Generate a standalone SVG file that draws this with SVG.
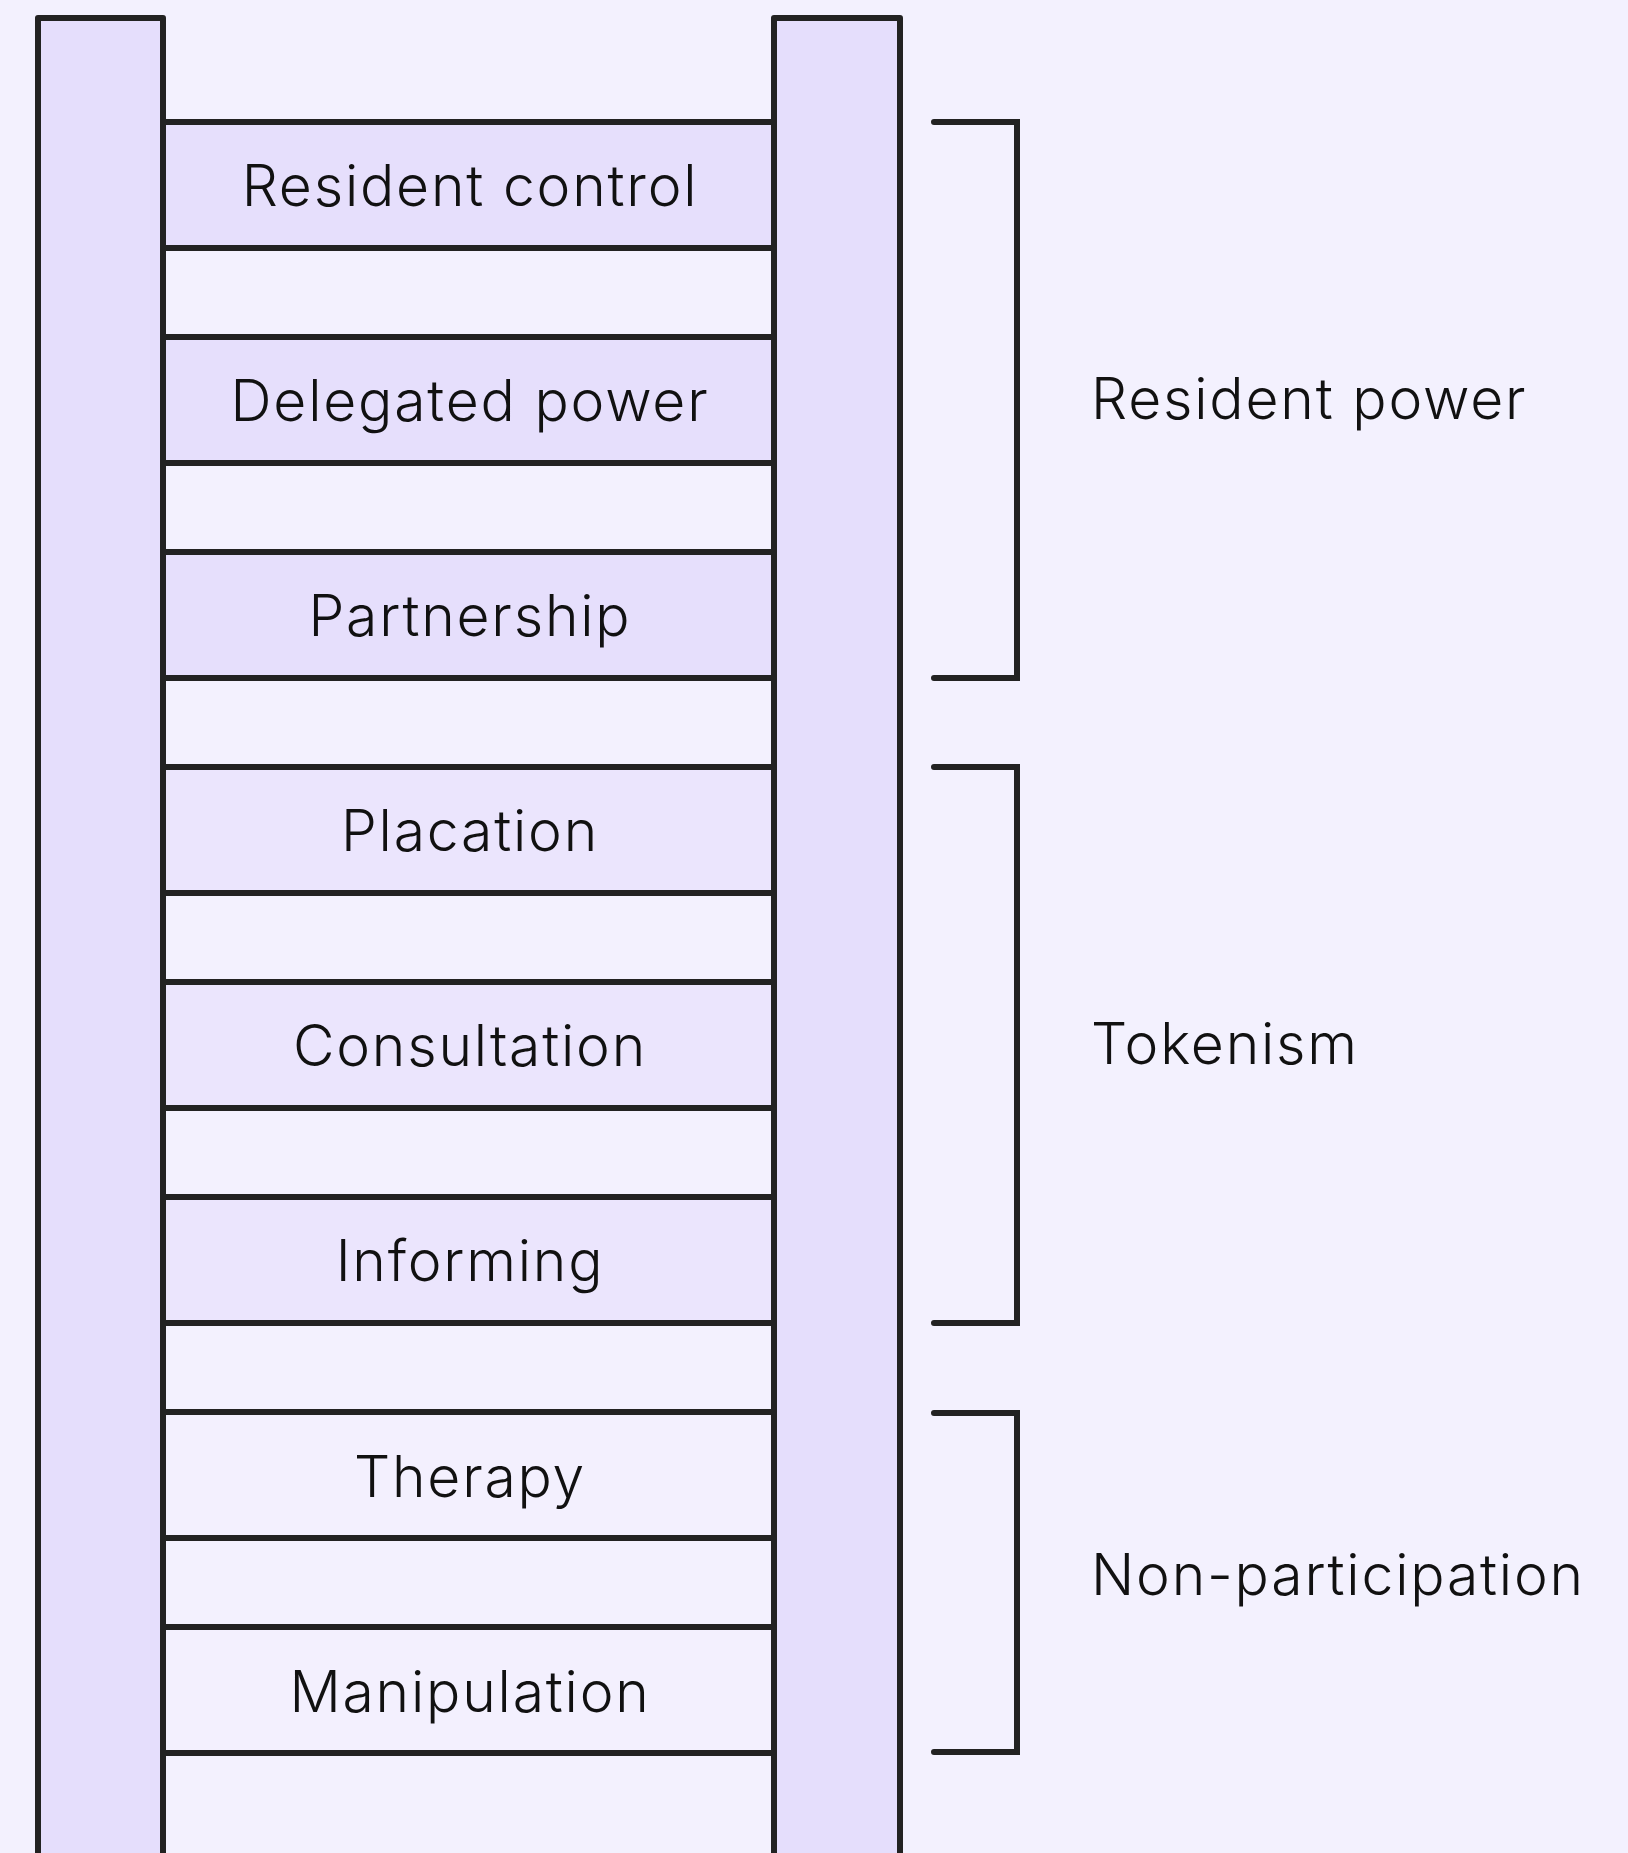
<svg xmlns="http://www.w3.org/2000/svg" width="1628" height="1853" viewBox="0 0 1628 1853">
<style>
.bg{fill:#F3F1FE}
.rail{fill:#E5DEFC;stroke:#222222;stroke-width:6;stroke-linejoin:round}
.rung{stroke:#222222;stroke-width:6}
.r1{fill:#E6DFFC}
.r2{fill:#EBE5FD}
.r3{fill:#F3F0FE}
.br{fill:none;stroke:#222222;stroke-width:6;stroke-linecap:round;stroke-linejoin:miter}
text{font-family:Inter,"Open Sans","Noto Sans",sans-serif;font-size:57px;font-weight:300;fill:#111111;letter-spacing:1.8px}
.c{text-anchor:middle}
</style>
<rect class="bg" x="0" y="0" width="1628" height="1853"/>
<g id="rungs">
<g id="rung-resident-control"><rect class="rung r1" x="163" y="122" width="611" height="126"/><text class="c" x="470" y="206">Resident control</text></g>
<g id="rung-delegated-power"><rect class="rung r1" x="163" y="337" width="611" height="126"/><text class="c" x="470" y="421">Delegated power</text></g>
<g id="rung-partnership"><rect class="rung r1" x="163" y="552" width="611" height="126"/><text class="c" x="470" y="636">Partnership</text></g>
<g id="rung-placation"><rect class="rung r2" x="163" y="767" width="611" height="126"/><text class="c" x="470" y="851">Placation</text></g>
<g id="rung-consultation"><rect class="rung r2" x="163" y="982" width="611" height="126"/><text class="c" x="470" y="1066">Consultation</text></g>
<g id="rung-informing"><rect class="rung r2" x="163" y="1197" width="611" height="126"/><text class="c" x="470" y="1281">Informing</text></g>
<g id="rung-therapy"><rect class="rung r3" x="163" y="1412" width="611" height="126"/><text class="c" x="470" y="1497">Therapy</text></g>
<g id="rung-manipulation"><rect class="rung r3" x="163" y="1627" width="611" height="126"/><text class="c" x="470" y="1712">Manipulation</text></g>
</g>
<g id="rail-left"><rect class="rail" x="38" y="18" width="125" height="1860"/></g>
<g id="rail-right"><rect class="rail" x="774" y="18" width="126" height="1860"/></g>
<g id="connectors">
<path class="br" d="M934 122 H1017 V678 H934"/>
<path class="br" d="M934 767 H1017 V1323 H934"/>
<path class="br" d="M934 1413 H1017 V1752 H934"/>
</g>
<g id="group-resident-power"><text x="1091" y="419">Resident power</text></g>
<g id="group-tokenism"><text x="1091" y="1064">Tokenism</text></g>
<g id="group-non-participation"><text x="1091" y="1595">Non-participation</text></g>
</svg>
